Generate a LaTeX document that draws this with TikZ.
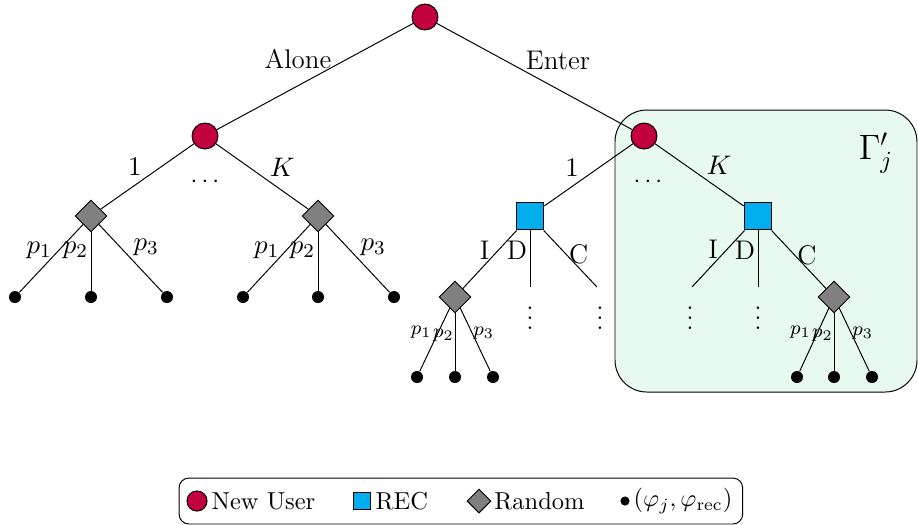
\documentclass[tikz,border=0pt]{standalone}
\usetikzlibrary{shapes.geometric,positioning,fit}
\definecolor{userred}{RGB}{194,0,62}
\definecolor{recblue}{RGB}{0,174,239}
\definecolor{subgreen}{RGB}{232,250,239}

\begin{document}
\begin{tikzpicture}[x=0.408pt,y=-0.408pt,
  user/.style={circle,draw,fill=userred,minimum size=10.6pt,inner sep=0pt},
  rec/.style={rectangle,draw,fill=recblue,minimum size=11.4pt,inner sep=0pt},
  rand/.style={diamond,draw,fill=gray,minimum size=13pt,inner sep=0pt},
  leaf/.style={circle,fill=black,minimum size=4.9pt,inner sep=0pt},
  lbl/.style={inner sep=1pt,font=\fontsize{11}{13}\selectfont},
  small/.style={inner sep=0.3pt,font=\footnotesize},
  key/.style={inner sep=1pt}]
  \useasboundingbox (0,0) rectangle (918,524);
  % subgame box
  \draw[fill=subgreen,rounded corners=13pt] (615,110) rectangle (917,392);
  \node (gamma) at (876,153) {\Large $\Gamma'_j$};

  \node[user] (root) at (425,17) {};
  \node[user] (uA) at (205,136) {};
  \node[user] (uE) at (644,136) {};
  \draw (root) -- node[lbl,pos=0.42,above left=-2pt] {Alone} (uA);
  \draw (root) -- node[lbl,pos=0.45,above right=-1pt] {Enter} (uE);

  % alone branch
  \node[rand] (dA) at (91,216) {};
  \node[rand] (dB) at (318,216) {};
  \node (hdotsA) at (205,182) {$\cdots$};
  \draw (uA) -- node[lbl,pos=0.53,above left] {$1$} (dA);
  \draw (uA) -- node[lbl,pos=0.55,above right] {$K$} (dB);

  \node[leaf] (a1) at (15,297) {};
  \node[leaf] (a2) at (91,297) {};
  \node[leaf] (a3) at (167,297) {};
  \draw (dA) -- node[lbl,pos=0.5,above left=-2pt] {$p_1$} (a1);
  \draw (dA) -- node[lbl,pos=0.3,left] {$p_2$} (a2);
  \draw (dA) -- node[lbl,pos=0.5,above right] {$p_3$} (a3);

  \node[leaf] (b1) at (243,297) {};
  \node[leaf] (b2) at (318,297) {};
  \node[leaf] (b3) at (394,297) {};
  \draw (dB) -- node[lbl,pos=0.5,above left=-2pt] {$p_1$} (b1);
  \draw (dB) -- node[lbl,pos=0.3,left] {$p_2$} (b2);
  \draw (dB) -- node[lbl,pos=0.5,above right] {$p_3$} (b3);

  % enter branch
  \node[rec] (rA) at (530,216) {};
  \node[rec] (rB) at (758,216) {};
  \node (hdotsE) at (648,182) {$\cdots$};
  \draw (uE) -- node[lbl,pos=0.58,above left] {$1$} (rA);
  \draw (uE) -- node[lbl,pos=0.55,above right] {$K$} (rB);

  \node[rand] (dC) at (455,297) {};
  \coordinate (eAD) at (530,287);
  \coordinate (eAC) at (597,287);
  \node (vAD) at (530,311) {$\vdots$};
  \node (vAC) at (600,311) {$\vdots$};
  \draw (rA) -- node[lbl,pos=0.5,above left=-1.5pt] {I} (dC);
  \draw (rA) -- node[lbl,pos=0.35,left] {D} (eAD);
  \draw (rA) -- node[lbl,pos=0.42,right] {C} (eAC);

  \node[leaf] (c1) at (417,377) {};
  \node[leaf] (c2) at (455,377) {};
  \node[leaf] (c3) at (493,377) {};
  \draw (dC) -- node[small,inner sep=2.6pt,pos=0.38,left] {$p_1$} (c1);
  \draw (dC) -- node[small,pos=0.38,left] {$p_2$} (c2);
  \draw (dC) -- node[small,pos=0.4,right] {$p_3$} (c3);

  \coordinate (eBI) at (692,287);
  \coordinate (eBD) at (758,287);
  \node[rand] (dD) at (834,297) {};
  \node (vBI) at (690,311) {$\vdots$};
  \node (vBD) at (758,311) {$\vdots$};
  \draw (rB) -- node[lbl,pos=0.5,above left=-1.5pt] {I} (eBI);
  \draw (rB) -- node[lbl,pos=0.35,left] {D} (eBD);
  \draw (rB) -- node[lbl,pos=0.42,right] {C} (dD);

  \node[leaf] (d1) at (797,377) {};
  \node[leaf] (d2) at (834,377) {};
  \node[leaf] (d3) at (872,377) {};
  \draw (dD) -- node[small,inner sep=2.6pt,pos=0.38,left] {$p_1$} (d1);
  \draw (dD) -- node[small,pos=0.38,left] {$p_2$} (d2);
  \draw (dD) -- node[small,pos=0.4,right] {$p_3$} (d3);

  % legend
  \node[user,minimum size=8.2pt] (kUser) at (197,501) {};
  \node[key,right=0.5pt of kUser] (tUser) {New User};
  \node[rec,minimum size=7.3pt] (kRec) at (362,501) {};
  \node[key,right=0.5pt of kRec] (tRec) {REC};
  \node[rand,minimum size=9.8pt] (kRand) at (479,501) {};
  \node[key,right=0pt of kRand] (tRand) {Random};
  \node[leaf,draw,minimum size=3.3pt] (kLeaf) at (625,501) {};
  \node[key,right=0.5pt of kLeaf] (tLeaf) {$(\varphi_j,\varphi_{\mathrm{rec}})$};
  \node[draw,rounded corners=4pt,inner sep=3pt,fit=(kUser)(tUser)(tLeaf)] (legend) {};
\end{tikzpicture}
\end{document}
